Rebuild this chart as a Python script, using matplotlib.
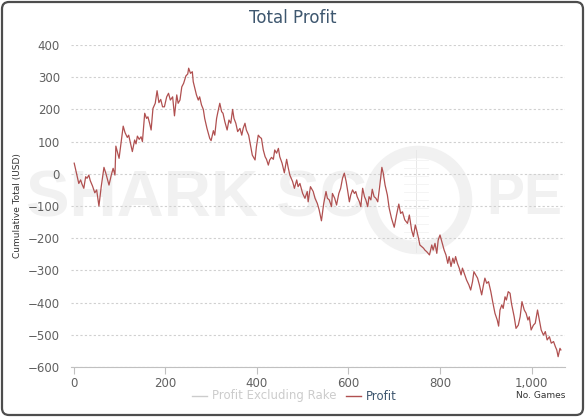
import matplotlib
matplotlib.use('Agg')
import matplotlib.pyplot as plt
from matplotlib.patches import FancyBboxPatch, Ellipse
from matplotlib.lines import Line2D
from matplotlib.ticker import FuncFormatter

# data
games = [1, 7, 11, 15, 18, 22, 26, 29, 33, 36, 41, 46, 50, 55, 60, 66, 70, 73, 77, 82,
         86, 90, 92, 96, 99, 104, 108, 112, 117, 120, 124, 128, 133, 136, 139, 143, 147, 150, 155, 159,
         162, 166, 169, 173, 178, 182, 186, 190, 194, 198, 203, 207, 211, 216, 220, 225, 228, 232, 236, 240,
         245, 249, 251, 255, 259,
         261, 268, 272, 275, 279, 283, 286, 291, 297, 300, 305, 308, 312, 315, 319, 323, 326, 330, 335, 339,
         343, 347, 350, 354, 358, 363, 367, 370, 374, 377, 382, 386, 390, 396, 399, 403, 407, 410, 414, 418,
         421, 425, 428, 432, 436, 439, 443, 447, 450, 455, 460, 465, 468, 472, 478, 482, 487, 490, 494,
         500, 505, 510, 512, 517, 523, 527, 532, 536, 541, 546, 551, 554, 558, 563, 565, 570, 574, 579, 583,
         587, 591, 595, 598, 602, 605, 609, 613, 616, 619, 624, 627, 631, 635, 638, 642, 645, 649, 652, 656,
         660, 664, 669, 673, 676, 680, 685, 689, 694, 700, 705, 710, 714, 718, 723, 729, 733, 738, 742, 746,
         749, 753, 756,
         764, 767, 771, 777, 782, 785, 789, 793, 796, 800, 804, 809, 813, 817, 820, 824, 828, 831, 834, 838,
         842, 846, 849, 853, 858, 863, 867, 871, 874, 878, 882, 886, 891, 895, 898, 902, 906, 911, 915, 920,
         925, 928, 931, 935, 938, 942, 945, 949, 953, 956, 962, 966, 971, 975, 979, 984, 988, 992, 995, 999,
         1004, 1008, 1013, 1017, 1021, 1026, 1030, 1034, 1039, 1043, 1048, 1052, 1055, 1058, 1062, 1064]

profit = [33, -4, -30, -19, -32, -45, -9, -14, -4, -21, -38, -59, -50, -100, -40, 20, 2, -14, -35, -4,
          17, -4, 86, 64, 48, 105, 148, 128, 113, 120, 95, 69, 105, 93, 117, 107, 115, 100, 188, 172,
          177, 155, 136, 203, 219, 258, 221, 231, 208, 208, 239, 250, 229, 239, 180, 245, 219, 229, 270, 281,
          304, 310, 328, 312, 317,
          286, 245, 229, 239, 214, 200, 172, 141, 110, 103, 134, 120, 172, 193, 219, 193, 188, 162, 136, 167,
          157, 200, 172, 157, 131, 141, 120, 141, 157, 136, 120, 89, 58, 43, 84, 120, 113, 110, 74, 53,
          45, 27, 43, 51, 45, 74, 64, 79, 53, 33, 3, 45, 22, -4, -24, -45, -19, -40, -30,
          -61, -76, -55, -87, -40, -55, -76, -92, -112, -146, -92, -55, -76, -81, -102, -61, -76, -97, -61, -45,
          -14, 2, -24, -50, -87, -66, -50, -61, -55, -71, -87, -102, -45, -71, -81, -102, -71, -81, -48, -71,
          -76, -87, -30, 20, 2, -35, -66, -107, -138, -166, -128, -94, -123, -118, -143, -154, -128, -175, -195, -159,
          -175, -200, -221,
          -231, -237, -242, -252, -221, -237, -216, -247, -206, -190, -211, -237, -252, -278, -257, -288, -262, -278, -257, -278,
          -293, -314, -293, -309, -330, -345, -361, -335, -304, -314, -324, -345, -376, -345, -324, -340, -335, -366, -397, -433,
          -454, -473, -423, -407, -418, -382, -392, -366, -371, -402, -444, -480, -470, -444, -397, -423, -433, -454, -444, -485,
          -470, -464, -423, -454, -485, -501, -490, -516, -506, -526, -521, -537, -547, -568, -542, -547]

y_ticks = [-600, -500, -400, -300, -200, -100, 0, 100, 200, 300, 400]
x_ticks = [0, 200, 400, 600, 800, 1000]

plt.rcParams['font.family'] = ['DejaVu Sans']

W, H = 585.0, 417.0
fig = plt.figure(figsize=(5.85, 4.17), dpi=100)

# background layer in pixel coords (0,0 top-left) for border + watermark
bg = fig.add_axes([0, 0, 1, 1], zorder=0)
bg.set_xlim(0, W)
bg.set_ylim(H, 0)
bg.axis('off')
bg.add_patch(FancyBboxPatch((2, 2), W - 4, H - 4, boxstyle='round,pad=0,rounding_size=7',
                            fill=False, edgecolor='#4d4d4d', linewidth=1.6))
wm = '#f1f1f1'
bg.text(26, 199, 'SHARK SC', fontsize=47, fontweight='bold', color=wm,
        va='center', ha='left', family='Liberation Sans')
bg.text(486, 199, 'PE', fontsize=41, fontweight='bold', color=wm,
        va='center', ha='left', family='Liberation Sans')
bg.add_patch(Ellipse((418, 200), 96, 96, fill=False, edgecolor=wm, linewidth=9))
bg.plot([416, 416], [150, 252], color='#e8e8e8', linewidth=0.7)
for yy in range(160, 245, 8):
    bg.plot([404, 428], [yy, yy], color='#f3f3f3', linewidth=0.6)

ax = fig.add_axes([71 / W, (H - 367) / H, (565 - 71) / W, (367 - 45) / H], zorder=1)
ax.set_facecolor('none')
ax.set_xlim(-6, 1073)
ax.set_ylim(-600, 400)
ax.set_yticks(y_ticks)
ax.set_xticks(x_ticks)
ax.grid(axis='y', color='#d0d0d0', linestyle=(0, (2, 2)), linewidth=0.8)
ax.set_axisbelow(True)
for s in ['top', 'right', 'left']:
    ax.spines[s].set_visible(False)
ax.spines['bottom'].set_color('#c0c0c0')
ax.tick_params(axis='y', length=0, labelsize=8.5, labelcolor='#606060', pad=8)
ax.tick_params(axis='x', length=5, color='#c0c0c0', labelsize=8.5, labelcolor='#606060', pad=2)
ax.xaxis.set_major_formatter(FuncFormatter(lambda v, p: f'{int(v):,}'))

ax.plot(games, profit, color='#b05050', linewidth=0.9, zorder=3)

bg.text(W / 2, 18, 'Total Profit', ha='center', va='center', fontsize=12, color='#3e576f')
bg.text(18, 206, 'Cumulative Total (USD)', rotation=90, ha='center', va='center',
        fontsize=6.5, color='#333333')
bg.text(565, 396, 'No. Games', ha='right', va='center', fontsize=6.5, color='#333333')

# legend
bg.add_line(Line2D([192, 207], [396, 396], color='#cccccc', linewidth=1))
bg.text(212, 396, 'Profit Excluding Rake', ha='left', va='center', fontsize=8.5, color='#cccccc')
bg.add_line(Line2D([346, 361], [396, 396], color='#b05050', linewidth=1))
bg.text(366, 396, 'Profit', ha='left', va='center', fontsize=8.5, color='#3e576f')

fig.savefig('out.png', dpi=100)
